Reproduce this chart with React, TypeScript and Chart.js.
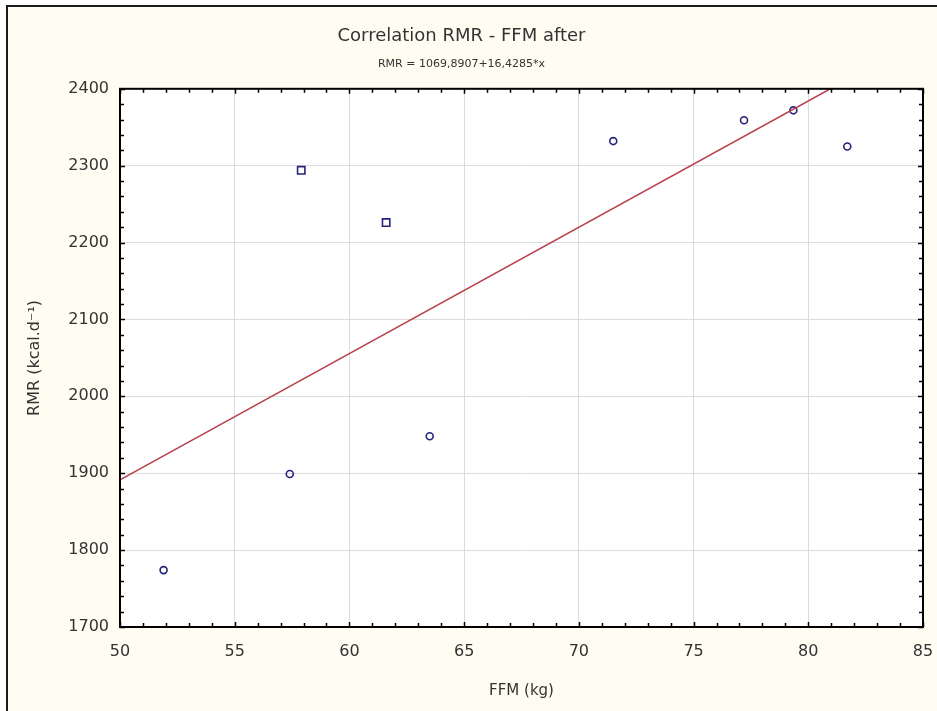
import React, { useEffect, useRef } from 'react';
import { Chart, registerables } from 'chart.js';

Chart.register(...registerables);

// Data
const ffmKg = [51.9, 57.4, 57.9, 61.6, 63.5, 71.5, 77.2, 79.35, 81.7];
const rmrKcal = [1774, 1899, 2294, 2226, 1948, 2332, 2359, 2372, 2325];
const pointShapes = ['circle', 'circle', 'rect', 'rect', 'circle', 'circle', 'circle', 'circle', 'circle'];

// Regression line from the chart's subtitle
const intercept = 1069.8907;
const slope = 16.4285;
const fitRange = [50, 85];

const xTicks = [50, 55, 60, 65, 70, 75, 80, 85];
const yTicks = [1700, 1800, 1900, 2000, 2100, 2200, 2300, 2400];

const FONT = "'DejaVu Sans', Arial, sans-serif";

const frameAndTicks = {
  id: 'frameAndTicks',
  beforeDraw(chart: any) {
    const { ctx, chartArea: a, width, height } = chart;
    ctx.save();
    ctx.fillStyle = '#ffffff';
    ctx.fillRect(0, 0, width, height);
    ctx.fillStyle = '#fffcf1';
    ctx.fillRect(8, 7, width - 8, height - 7);
    ctx.strokeStyle = '#1a1a1a';
    ctx.lineWidth = 2;
    ctx.beginPath();
    ctx.moveTo(7, height);
    ctx.lineTo(7, 6);
    ctx.lineTo(width, 6);
    ctx.stroke();
    ctx.fillStyle = '#ffffff';
    ctx.fillRect(a.left, a.top, a.right - a.left, a.bottom - a.top);
    ctx.restore();
  },
  afterDatasetsDraw(chart: any) {
    const { ctx, chartArea: a, scales } = chart;
    const x = scales.x;
    const y = scales.y;
    ctx.save();
    ctx.strokeStyle = '#000000';
    ctx.lineWidth = 1.5;
    ctx.beginPath();
    for (let v = 50; v <= 85; v += 1) {
      const px = Math.round(x.getPixelForValue(v)) + 0.5;
      const len = v % 5 === 0 ? 5 : 4;
      ctx.moveTo(px, a.bottom);
      ctx.lineTo(px, a.bottom - len);
      ctx.moveTo(px, a.top);
      ctx.lineTo(px, a.top + len);
    }
    for (let v = 1700; v <= 2400; v += 20) {
      const py = Math.round(y.getPixelForValue(v)) + 0.5;
      const len = v % 100 === 0 ? 5 : 4;
      ctx.moveTo(a.left, py);
      ctx.lineTo(a.left + len, py);
      ctx.moveTo(a.right, py);
      ctx.lineTo(a.right - len, py);
    }
    ctx.stroke();
    ctx.lineWidth = 2;
    ctx.strokeRect(a.left, a.top, a.right - a.left, a.bottom - a.top);
    ctx.restore();
  },
};

export default function App() {
  const ref = useRef<HTMLCanvasElement | null>(null);

  useEffect(() => {
    if (!ref.current) return;
    const points = ffmKg.map((v, i) => ({ x: v, y: rmrKcal[i] }));
    const fit = fitRange.map((v) => ({ x: v, y: intercept + slope * v }));
    const chart = new Chart(ref.current, {
      type: 'scatter',
      data: {
        datasets: [
          {
            type: 'line',
            label: 'Fit',
            data: fit,
            borderColor: '#b8434f',
            borderWidth: 1.6,
            pointRadius: 0,
            fill: false,
          } as any,
          {
            label: 'RMR',
            data: points,
            pointStyle: pointShapes as any,
            pointRadius: pointShapes.map((s) => (s === 'rect' ? 5.2 : 3.5)),
            pointBackgroundColor: 'rgba(0,0,0,0)',
            pointBorderColor: '#25237a',
            pointBorderWidth: 1.6,
          },
        ],
      },
      options: {
        animation: false,
        responsive: false,
        devicePixelRatio: 1,
        layout: { padding: { left: 0, right: 14, top: 0, bottom: 0 } },
        plugins: {
          legend: { display: false },
          tooltip: { enabled: false },
          title: {
            display: true,
            text: 'Correlation RMR - FFM after',
            color: '#333333',
            font: { family: FONT, size: 18, weight: 'normal' },
            padding: { top: 26, bottom: 0 },
          },
          subtitle: {
            display: true,
            text: 'RMR = 1069,8907+16,4285*x',
            color: '#333333',
            font: { family: FONT, size: 11, weight: 'normal' },
            padding: { top: 10, bottom: 18 },
          },
        },
        scales: {
          x: {
            type: 'linear',
            min: 50,
            max: 85,
            afterBuildTicks: (s: any) => {
              s.ticks = xTicks.map((v) => ({ value: v }));
            },
            afterFit: (s: any) => {
              s.height = 84;
              s.paddingLeft = 0;
              s.paddingRight = 0;
            },
            ticks: {
              color: '#333333',
              font: { family: FONT, size: 16 },
              padding: 15,
              callback: (v: any) => String(v),
            },
            grid: { color: '#dcdcdc', lineWidth: 1, drawTicks: false },
            border: { display: false },
            title: {
              display: true,
              text: 'FFM (kg)',
              color: '#333333',
              font: { family: FONT, size: 15 },
              padding: { top: 0, bottom: 11 },
            },
          },
          y: {
            type: 'linear',
            min: 1700,
            max: 2400,
            afterBuildTicks: (s: any) => {
              s.ticks = yTicks.map((v) => ({ value: v }));
            },
            afterFit: (s: any) => {
              s.width = 120;
              s.paddingTop = 0;
              s.paddingBottom = 0;
            },
            ticks: {
              color: '#333333',
              font: { family: FONT, size: 16 },
              padding: 11,
              callback: (v: any) => String(v),
            },
            grid: { color: '#dcdcdc', lineWidth: 1, drawTicks: false },
            border: { display: false },
            title: {
              display: true,
              text: 'RMR (kcal.d\u207B\u00B9)',
              color: '#333333',
              font: { family: FONT, size: 16 },
              padding: { top: 25, bottom: 0 },
            },
          },
        },
      },
      plugins: [frameAndTicks],
    });
    return () => chart.destroy();
  }, []);

  return (
    <div style={{ position: 'fixed', left: 0, top: 0, width: 937, height: 711 }}>
      <canvas ref={ref} width={937} height={711} style={{ display: 'block' }} />
    </div>
  );
}
